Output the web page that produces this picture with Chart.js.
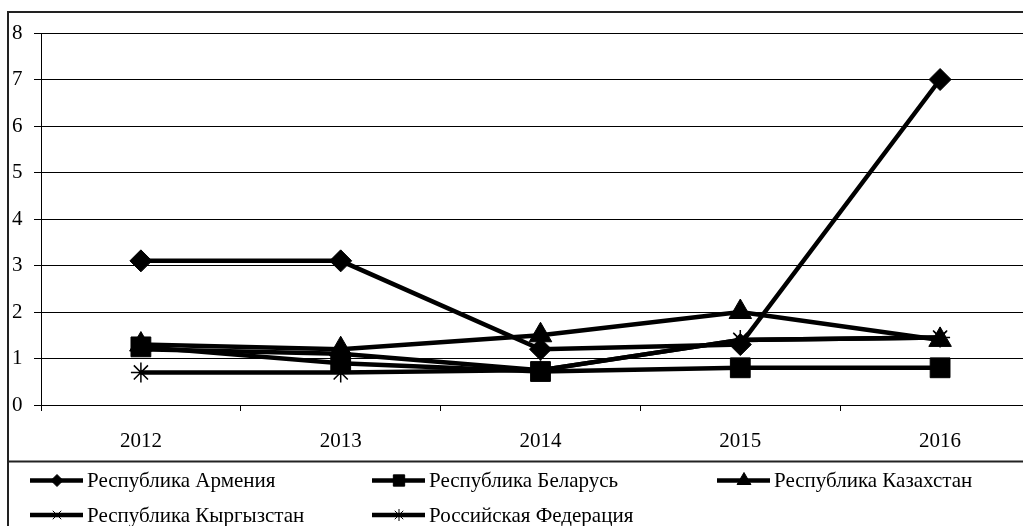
<!DOCTYPE html>
<html>
<head>
<meta charset="utf-8">
<script src="https://cdn.jsdelivr.net/npm/chart.js@4/dist/chart.umd.min.js"></script>
<style>
  html, body { margin: 0; padding: 0; background: #fff; overflow: hidden; }
  #wrap { width: 1023px; height: 526px; overflow: hidden; }
</style>
</head>
<body>
<div id="wrap"><canvas id="plotCanvas" width="1060" height="526"></canvas></div>
<script>
const years = ['2012', '2013', '2014', '2015', '2016'];

const armenia    = [3.1, 3.1, 1.2, 1.3, 7.0];
const belarus    = [1.25, 0.9, 0.72, 0.8, 0.8];
const kazakhstan = [1.3, 1.2, 1.5, 2.0, 1.4];
const kyrgyzstan = [1.2, 1.1, 0.75, 1.4, 1.45];
const russia     = [0.7, 0.7, 0.75, 1.4, 1.45];

const seriesNames = [
    'Республика Армения',
    'Республика Беларусь',
    'Республика Казахстан',
    'Республика Кыргызстан',
    'Российская Федерация'
];

const FONT = '"Liberation Serif", "Times New Roman", serif';

// marker style for each series (chart and legend)
const markers = [
    { style: 'rectRot',  r: 11, lr: 6 },
    { style: 'rect',     r: 14, lr: 8 },
    { style: 'triangle', r: 13, lr: 8 },
    { style: 'crossRot', r: 9,  lr: 6 },
    { style: 'star',     r: 10, lr: 6 }
];

function isThin(style) {
    return style === 'crossRot' || style === 'star';
}

function makeDataset(i, values) {
    const m = markers[i];
    return {
        label: seriesNames[i],
        data: values,
        borderColor: '#000',
        borderWidth: 4.5,
        pointStyle: m.style,
        pointRadius: m.r,
        pointBackgroundColor: '#000',
        pointBorderColor: '#000',
        pointBorderWidth: isThin(m.style) ? 1.5 : 1,
        tension: 0
    };
}

// frame + legend under the axis
const frameAndLegend = {
    id: 'frameAndLegend',
    beforeDraw(chart) {
        const c = chart.ctx;
        c.save();
        c.fillStyle = '#fff';
        c.fillRect(0, 0, chart.width, chart.height);
        c.restore();
    },
    afterDraw(chart) {
        const c = chart.ctx;
        c.save();
        c.strokeStyle = '#222';
        c.lineWidth = 2;
        c.beginPath();
        c.moveTo(8, chart.height);
        c.lineTo(8, 12);
        c.lineTo(chart.width, 12);
        c.moveTo(8, 461.5);
        c.lineTo(chart.width, 461.5);
        c.stroke();

        const cols = [30, 372, 717];
        const rows = [480.5, 515];
        chart.data.datasets.forEach((ds, i) => {
            const x0 = cols[i % 3];
            const y = rows[Math.floor(i / 3)];
            c.strokeStyle = '#000';
            c.fillStyle = '#000';
            c.lineWidth = 4.5;
            c.beginPath();
            c.moveTo(x0, y);
            c.lineTo(x0 + 53, y);
            c.stroke();
            c.lineWidth = isThin(markers[i].style) ? 1 : 1;
            Chart.helpers.drawPoint(c, {
                pointStyle: markers[i].style,
                radius: markers[i].lr,
                rotation: 0,
                borderWidth: 1
            }, x0 + 27, y);
            c.fillStyle = '#000';
            c.font = '21px ' + FONT;
            c.textBaseline = 'middle';
            c.textAlign = 'left';
            c.fillText(ds.label, x0 + 57, y + 1);
        });
        c.restore();
    }
};

const ctx = document.getElementById('plotCanvas');

const chart = new Chart(ctx, {
    type: 'line',
    data: {
        labels: years,
        datasets: [
            makeDataset(0, armenia),
            makeDataset(1, belarus),
            makeDataset(2, kazakhstan),
            makeDataset(3, kyrgyzstan),
            makeDataset(4, russia)
        ]
    },
    options: {
        responsive: false,
        animation: false,
        devicePixelRatio: 1,
        layout: { padding: { left: 12, right: 20, top: 33, bottom: 0 } },
        plugins: {
            legend: { display: false },
            tooltip: { enabled: false }
        },
        scales: {
            x: {
                offset: true,
                grid: {
                    offset: true,
                    drawOnChartArea: false,
                    drawTicks: true,
                    tickLength: 6,
                    color: '#000'
                },
                border: { display: true, color: '#000', width: 1 },
                ticks: {
                    color: '#000',
                    padding: 18,
                    font: { family: FONT, size: 21 },
                    maxRotation: 0
                },
                afterFit(scale) { scale.height = 121; }
            },
            y: {
                min: 0,
                max: 8,
                ticks: {
                    stepSize: 1,
                    color: '#000',
                    crossAlign: 'far',
                    font: { family: FONT, size: 21 }
                },
                grid: {
                    color: '#000',
                    tickLength: 7,
                    lineWidth: 1
                },
                border: { display: true, color: '#000', width: 1 },
                afterFit(scale) { scale.width = 29; }
            }
        }
    },
    plugins: [frameAndLegend]
});
</script>
</body>
</html>
